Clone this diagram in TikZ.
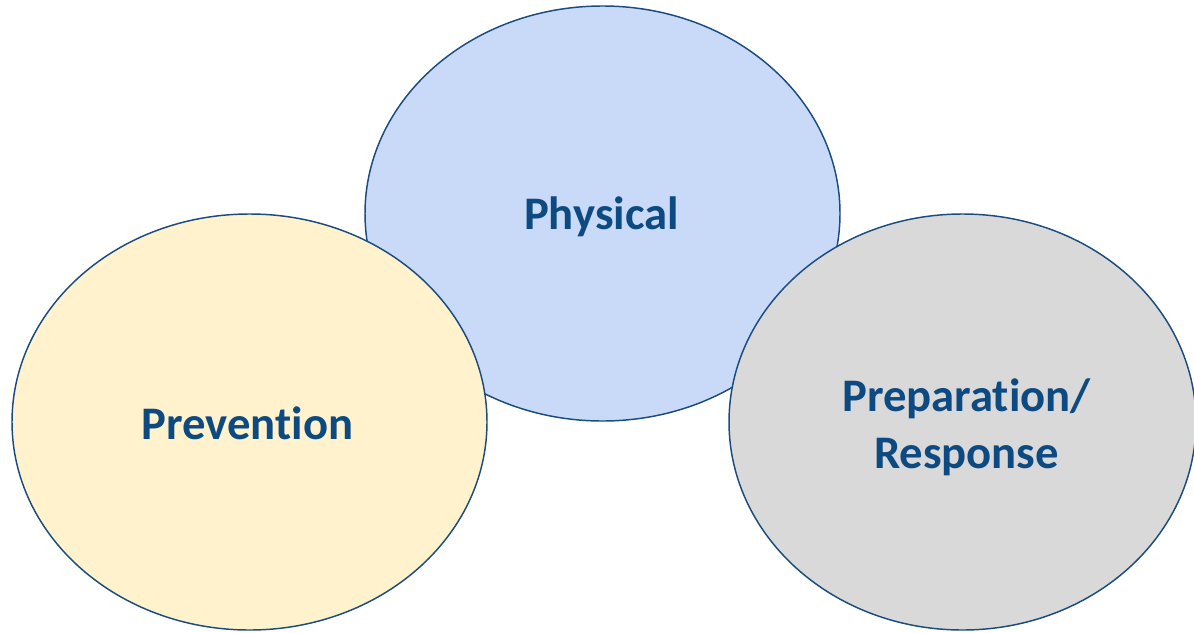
\documentclass[tikz,border=0pt]{standalone}
\usepackage{fontspec}
\setmainfont{Carlito}[RawFeature=-liga]
\usetikzlibrary{shapes.geometric}
\definecolor{txtblue}{HTML}{0D4A82}
\definecolor{lineblue}{HTML}{1A4C80}
\definecolor{physfill}{HTML}{C9DAF8}
\definecolor{prevfill}{HTML}{FFF2CC}
\definecolor{prepfill}{HTML}{D9D9D9}
\begin{document}
\begin{tikzpicture}[x=0.75pt,y=-0.75pt,
  bubble/.style={ellipse, draw=lineblue, line width=1.1pt, inner sep=0pt},
  label text/.style={anchor=base, inner sep=0pt, text=txtblue,
    font=\fontsize{35}{42}\selectfont\bfseries}]
\useasboundingbox (0,0) rectangle (1194,632);
\node[bubble, fill=physfill, minimum width=475*0.75pt, minimum height=415*0.75pt] (phys) at (602.5,213.5) {};
\node[bubble, fill=prevfill, minimum width=475*0.75pt, minimum height=416*0.75pt] (prev) at (249.5,422) {};
\node[bubble, fill=prepfill, minimum width=467*0.75pt, minimum height=416*0.75pt] (prep) at (962.5,422) {};
\node[label text] (physT) at (601.5,229) {Physical};
\node[label text] (prevT) at (247.5,439) {Prevention};
\node[label text] (prepT) at (966.5,411) {Preparation/};
\node[label text] (respT) at (966.5,468) {Response};
\end{tikzpicture}
\end{document}
